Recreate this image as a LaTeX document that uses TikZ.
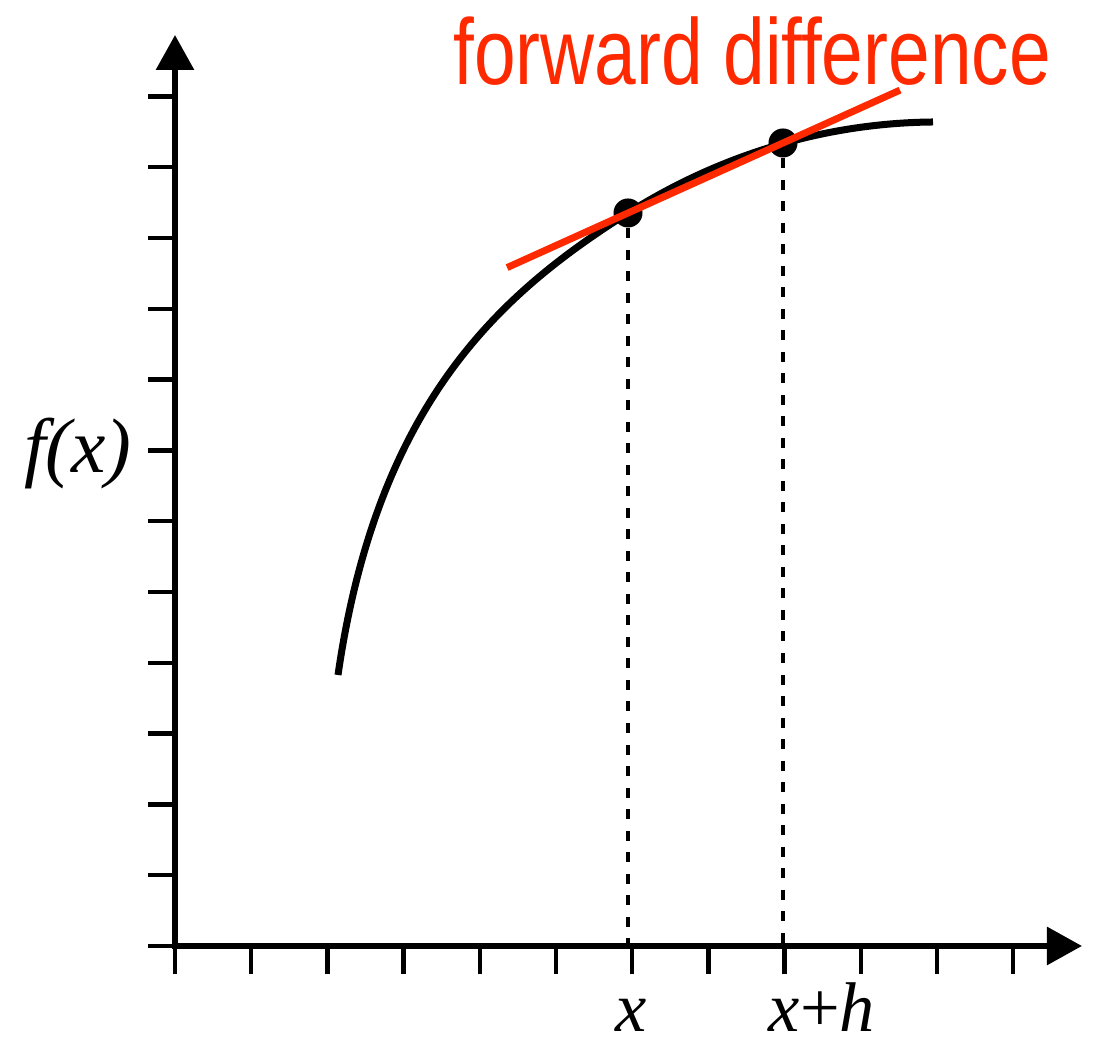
\documentclass[tikz,border=0pt]{standalone}
\usepackage{fontspec}
\setmainfont{Liberation Serif}
\newfontfamily\labelfont[FakeStretch=0.8]{Liberation Sans}
\usepackage{tikz}
\usetikzlibrary{arrows.meta,calc}
\definecolor{fdred}{RGB}{255, 41, 0}

\begin{document}
\begin{tikzpicture}[
  x=0.01cm, y=0.01cm,
  axis/.style={line width=0.06cm, -{Triangle[length=0.35cm, width=0.37cm]}},
  axtick/.style={line width=0.045cm},
  curve/.style={line width=0.07cm},
  dot/.style={circle, fill=black, inner sep=0pt, minimum size=0.29cm},
  guide/.style={line width=0.045cm, dash pattern=on 0.1cm off 0.115cm},
  lbl/.style={font=\fontsize{20}{24}\selectfont\itshape, anchor=base, inner sep=0pt}
]
  \useasboundingbox (0,0) rectangle (1096,1043);
  \coordinate (O) at (175,97);
  \coordinate (ytop) at (175,1008);
  \coordinate (xend) at (1082,97);
  % axes and ticks
  \draw[axis] (175,94) -- (ytop);
  \draw[axis] (172,97) -- (xend);
  \foreach \i in {0,...,11}
    \draw[axtick] ({175+\i*76.2},97) -- ++(0,-28);
  \foreach \j in {0,...,12}
    \draw[axtick] (175,{97+\j*70.8}) -- ++(-27,0);
  % function
  \node[dot] (ptx) at (628,830) {};
  \node[dot] (ptxh) at (783,900) {};
  \draw[curve] (338,368) .. controls (378,645) and (505,752) .. (ptx.center)
    .. controls (718,887) and (823,920) .. (933,921);
  \draw[guide] (ptx) -- (ptx |- O);
  \draw[guide] (ptxh) -- (ptxh |- O);
  % secant
  \draw[fdred, line width=0.07cm] ($(ptx)!-0.78!(ptxh)$) -- ($(ptx)!1.755!(ptxh)$);
  \node[font=\fontsize{26.6}{30}\labelfont, text=fdred, anchor=base] (title) at (752,958) {forward difference};
  % labels
  \node[lbl] (lx) at (631,11) {x};
  \node[lbl] (lxh) at (822,11) {x{\upshape +}h};
  \node[lbl, font=\fontsize{22}{26}\selectfont\itshape] (lf) at (78,570) {f(x)};
\end{tikzpicture}
\end{document}
